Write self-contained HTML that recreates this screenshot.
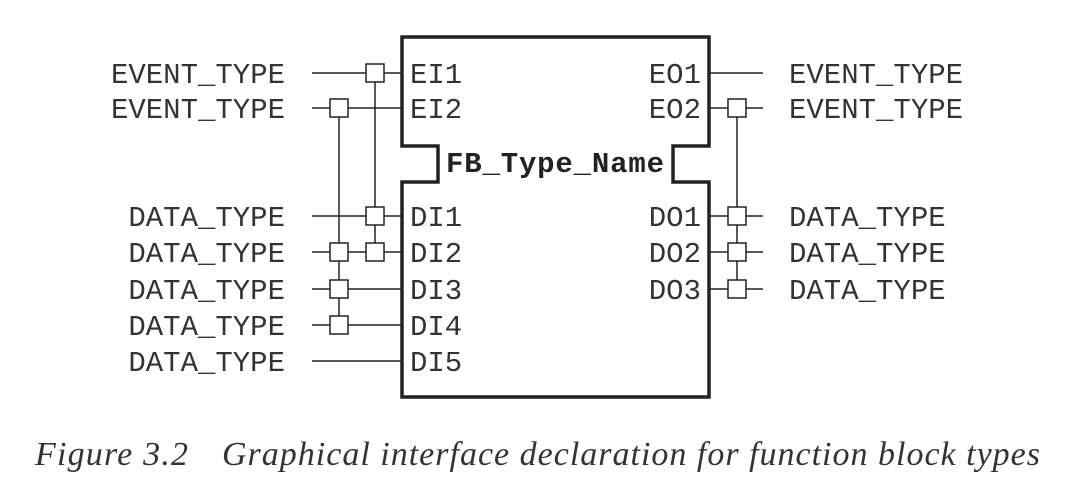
<!DOCTYPE html>
<html><head><style>body{margin:0;background:#fff}svg{display:block}</style></head><body>
<svg width="1068" height="500" xmlns="http://www.w3.org/2000/svg">
<g stroke="#222" stroke-width="1.5" fill="none">
<line x1="312" y1="73" x2="402" y2="73"/><line x1="312" y1="108" x2="402" y2="108"/>
<line x1="312" y1="216" x2="402" y2="216"/><line x1="312" y1="252" x2="402" y2="252"/>
<line x1="312" y1="289" x2="402" y2="289"/><line x1="312" y1="325" x2="402" y2="325"/>
<line x1="312" y1="361" x2="402" y2="361"/>
<line x1="339" y1="108" x2="339" y2="325"/><line x1="375" y1="73" x2="375" y2="252"/>
<line x1="709" y1="73" x2="763" y2="73"/><line x1="709" y1="108" x2="763" y2="108"/>
<line x1="709" y1="216" x2="763" y2="216"/><line x1="709" y1="252" x2="763" y2="252"/>
<line x1="709" y1="289" x2="763" y2="289"/>
<line x1="737" y1="108" x2="737" y2="289"/>
</g>
<g stroke="#222" stroke-width="1.5" fill="#fff">
<rect x="366" y="64" width="18" height="18"/><rect x="330" y="99" width="18" height="18"/>
<rect x="366" y="207" width="18" height="18"/><rect x="330" y="243" width="18" height="18"/>
<rect x="366" y="243" width="18" height="18"/><rect x="330" y="280" width="18" height="18"/>
<rect x="330" y="316" width="18" height="18"/>
<rect x="728" y="99" width="18" height="18"/><rect x="728" y="207" width="18" height="18"/>
<rect x="728" y="243" width="18" height="18"/><rect x="728" y="280" width="18" height="18"/>
</g>
<path d="M402 37 H709 V146 H673 V182 H709 V397 H402 V182 H438 V146 H402 Z" fill="none" stroke="#222" stroke-width="3.5"/>
<g font-family="Liberation Mono, monospace" font-size="29" fill="#333">
<g text-anchor="end">
<text x="285" y="83">EVENT_TYPE</text><text x="285" y="118">EVENT_TYPE</text>
<text x="285" y="226">DATA_TYPE</text><text x="285" y="262">DATA_TYPE</text>
<text x="285" y="299">DATA_TYPE</text><text x="285" y="335">DATA_TYPE</text>
<text x="285" y="371">DATA_TYPE</text>
<text x="701" y="83">EO1</text><text x="701" y="118">EO2</text>
<text x="701" y="226">DO1</text><text x="701" y="262">DO2</text><text x="701" y="299">DO3</text>
</g>
<text x="410" y="83">EI1</text><text x="410" y="118">EI2</text>
<text x="410" y="226">DI1</text><text x="410" y="262">DI2</text><text x="410" y="299">DI3</text>
<text x="410" y="335">DI4</text><text x="410" y="371">DI5</text>
<text x="789" y="83">EVENT_TYPE</text><text x="789" y="118">EVENT_TYPE</text>
<text x="789" y="226">DATA_TYPE</text><text x="789" y="262">DATA_TYPE</text><text x="789" y="299">DATA_TYPE</text>
<text x="446" y="172" font-weight="bold" fill="#222" textLength="218">FB_Type_Name</text>
</g>
<g font-family="Liberation Serif, serif" font-style="italic" font-size="34" fill="#333">
<text x="35" y="465" textLength="153">Figure 3.2</text>
<text x="222" y="465" textLength="818">Graphical interface declaration for function block types</text>
</g>
</svg>
</body></html>
